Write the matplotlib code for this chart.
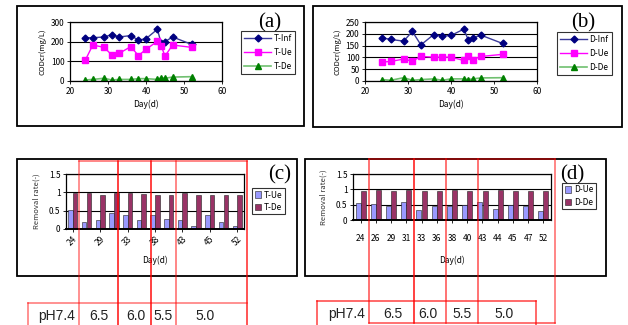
import numpy as np
import matplotlib
matplotlib.use("Agg")
from matplotlib import pyplot as plt
from matplotlib.patches import Rectangle
from matplotlib.lines import Line2D
from matplotlib import transforms

# days sampled
days = [24, 26, 29, 31, 33, 36, 38, 40, 43, 44, 45, 47, 52]
day_labels = [str(d) for d in days]

# (a) T reactor CODcr (mg/L)
t_inf = [220, 220, 224, 236, 224, 231, 208, 215, 263, 191, 200, 224, 186]
t_ue = [105, 183, 171, 132, 141, 175, 129, 161, 202, 178, 127, 183, 171]
t_de = [5, 8, 14, 5, 8, 8, 12, 12, 8, 17, 14, 20, 22]

# (b) D reactor CODcr (mg/L)
d_inf = [183, 176, 169, 210, 153, 197, 190, 193, 220, 174, 183, 194, 159]
d_ue = [80, 83, 93, 84, 104, 101, 101, 101, 87, 107, 91, 104, 113]
d_de = [6, 3, 14, 3, 6, 9, 3, 9, 9, 6, 9, 13, 14]

# (c) removal rates, T reactor
rr_t_ue = [0.51, 0.19, 0.25, 0.44, 0.38, 0.25, 0.39, 0.27, 0.25, 0.08, 0.39, 0.19, 0.08]
rr_t_de = [0.99, 0.98, 0.94, 0.98, 0.98, 0.96, 0.94, 0.94, 0.99, 0.93, 0.94, 0.93, 0.93]

# (d) removal rates, D reactor
rr_d_ue = [0.55, 0.51, 0.46, 0.60, 0.33, 0.47, 0.46, 0.48, 0.60, 0.37, 0.50, 0.46, 0.30]
rr_d_de = [0.94, 0.99, 0.93, 0.99, 0.94, 0.94, 0.99, 0.94, 0.94, 0.99, 0.93, 0.93, 0.93]

ph_labels = ["pH7.4", "6.5", "6.0", "5.5", "5.0"]

W, H = 628, 325
FONT = "Noto Sans CJK JP"
plt.rcParams["font.family"] = [FONT, "DejaVu Sans"]


def box(x0, y0, x1, y1):
    return [x0 / W, 1 - y1 / H, (x1 - x0) / W, (y1 - y0) / H]


def fx(x):
    return x / W


def fy(y):
    return 1 - y / H


fig = plt.figure(figsize=(W / 100, H / 100), dpi=100)

# outer panel frames
for x0, y0, x1, y1 in [(17, 6, 304, 126), (313, 6, 622, 127),
                       (17, 159, 297, 276), (305, 159, 606, 276)]:
    fig.add_artist(Rectangle((fx(x0), fy(y1)), fx(x1 - x0), (y1 - y0) / H,
                             transform=fig.transFigure, fill=False,
                             edgecolor="black", lw=1.3))


def style_axes(ax):
    for s in ax.spines.values():
        s.set_color("black")
        s.set_linewidth(0.9)
    ax.tick_params(labelsize=6, length=2, width=0.6, pad=2)
    ax.yaxis.grid(True, color="black", lw=0.8)
    ax.set_axisbelow(True)


def line_panel(rect, inf, ue, de, names, ymax, ystep, leg_xy, tag, tag_xy):
    ax = fig.add_axes(box(*rect))
    ax.plot(days, inf, color="#3a3a9a", lw=1, marker="D", ms=3.5,
            mfc="#000080", mec="#000080", label=names[0])
    ax.plot(days, ue, color="#ff00ff", lw=1, marker="s", ms=4.5,
            mfc="#ff00ff", mec="#ff00ff", label=names[1])
    ax.plot(days, de, color="#70c070", lw=1.2, marker="^", ms=4.5,
            mfc="#008000", mec="#008000", label=names[2])
    ax.set_xlim(20, 60)
    ax.set_ylim(0, ymax)
    ax.set_xticks(range(20, 61, 10))
    ax.set_yticks(np.arange(0, ymax + 1, ystep))
    style_axes(ax)
    ax.set_xlabel("Day(d)", fontsize=6, labelpad=3)
    ax.set_ylabel("CODcr(mg/L)", fontsize=5.5, labelpad=3)
    leg = ax.legend(loc="upper left", bbox_to_anchor=(fx(leg_xy[0]), fy(leg_xy[1])),
                    bbox_transform=fig.transFigure, fontsize=6, frameon=True,
                    fancybox=False, edgecolor="black", borderaxespad=0,
                    handlelength=3.2, labelspacing=0.55, borderpad=0.4,
                    handletextpad=0.3)
    leg.get_frame().set_linewidth(0.8)
    fig.text(fx(tag_xy[0]), fy(tag_xy[1]), tag, family="Liberation Serif",
             fontsize=15, ha="center", va="center", zorder=20)
    return ax


line_panel((70, 22, 222, 81), t_inf, t_ue, t_de, ["T-Inf", "T-Ue", "T-De"],
           300, 100, (241, 31), "(a)", (270, 23))
line_panel((365, 22, 537, 81), d_inf, d_ue, d_de, ["D-Inf", "D-Ue", "D-De"],
           250, 50, (557, 32), "(b)", (583, 23))


def bar_panel(rect, ue, de, names, rotate, leg_xy, tag, tag_xy):
    ax = fig.add_axes(box(*rect))
    x = np.arange(len(days))
    ax.bar(x - 0.17, ue, width=0.33, color="#9999ff", edgecolor="#202020",
           lw=0.4, label=names[0])
    ax.bar(x + 0.17, de, width=0.33, color="#993366", edgecolor="#202020",
           lw=0.4, label=names[1])
    ax.set_xlim(-0.5, len(days) - 0.5)
    ax.set_ylim(0, 1.5)
    ax.set_yticks([0, 0.5, 1, 1.5])
    ax.set_yticklabels(["0", "0.5", "1", "1.5"])
    style_axes(ax)
    ax.spines["bottom"].set_linewidth(1.4)
    if rotate:
        ax.set_xticks(x[::2])
        ax.set_xticklabels(day_labels[::2], rotation=45, ha="right", va="top",
                           rotation_mode="anchor")
        off = transforms.ScaledTranslation(-0.07, -0.08, fig.dpi_scale_trans)
        for lab in ax.get_xticklabels():
            lab.set_transform(lab.get_transform() + off)
        ax.set_xlabel("Day(d)", fontsize=6, labelpad=6)
    else:
        ax.set_xticks(x)
        ax.set_xticklabels(day_labels)
        ax.tick_params(axis="x", pad=8)
        ax.set_xlabel("Day(d)", fontsize=6, labelpad=9)
    ax.tick_params(axis="x", length=2)
    ax.set_ylabel("Removal rate(-)", fontsize=5.5, labelpad=6, color="#333333")
    leg = ax.legend(loc="upper left", bbox_to_anchor=(fx(leg_xy[0]), fy(leg_xy[1])),
                    bbox_transform=fig.transFigure, fontsize=6, frameon=True,
                    fancybox=False, edgecolor="black", borderaxespad=0,
                    handlelength=0.8, handleheight=0.8, labelspacing=0.4,
                    borderpad=0.3, handletextpad=0.3)
    leg.get_frame().set_linewidth(0.8)
    fig.text(fx(tag_xy[0]), fy(tag_xy[1]), tag, family="Liberation Serif",
             fontsize=15, ha="center", va="center", zorder=20)
    return ax


bar_panel((66, 174, 244, 229), rr_t_ue, rr_t_de, ["T-Ue", "T-De"], True,
          (252, 188), "(c)", (280, 175))
bar_panel((353, 174, 551, 220), rr_d_ue, rr_d_de, ["D-Ue", "D-De"], False,
          (562, 183), "(d)", (572, 175))


# red pH overlay lines
def red(xs, ys, alpha=0.9):
    fig.add_artist(Line2D([fx(v) for v in xs], [fy(v) for v in ys],
                          transform=fig.transFigure, color="red", lw=1.1,
                          alpha=alpha, zorder=30))


# panel (c) overlay
red([79, 247], [161, 161], 0.6)
red([79, 79], [161, 325], 0.55)
red([118, 118], [161, 325], 0.95)
red([151, 151], [161, 325], 0.95)
red([176, 176], [161, 325], 0.6)
red([247, 247], [161, 325], 0.85)
red([28, 247], [303, 303], 0.55)
red([28, 28], [303, 325], 0.55)
# panel (d) overlay
red([369, 555], [159, 159], 0.6)
red([369, 369], [159, 323], 0.7)
red([414, 414], [159, 323], 0.95)
red([446, 446], [159, 323], 0.7)
red([478, 478], [159, 323], 0.7)
red([555, 555], [159, 323], 0.6)
red([369, 555], [323, 323], 0.7)
red([317, 536], [301, 301], 0.75)
red([317, 317], [301, 325], 0.75)
red([536, 536], [301, 325], 0.75)

for xs, y in [([57, 99, 136, 163, 205], 316), ([347, 393, 428, 462, 504], 314)]:
    for xp, lab in zip(xs, ph_labels):
        fig.text(fx(xp), fy(y), lab, family="Liberation Sans", fontsize=10,
                 ha="center", va="center", color="#222222")

fig.savefig("out.png", dpi=100)
